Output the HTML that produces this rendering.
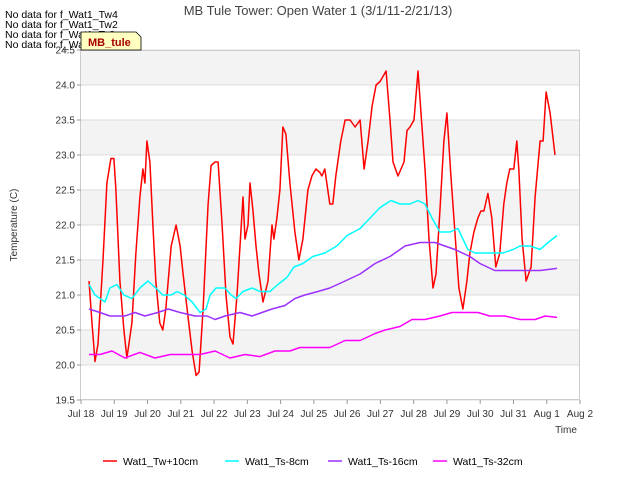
<!DOCTYPE html>
<html><head><meta charset="utf-8"><style>
body{margin:0;background:#fff;font-family:"Liberation Sans","DejaVu Sans",sans-serif}
svg text{font-family:"Liberation Sans","DejaVu Sans",sans-serif}
</style></head><body>
<svg id="chart" width="640" height="480" viewBox="0 0 640 480" xmlns="http://www.w3.org/2000/svg">
<g id="bands"></g>
<g id="grid"></g>
<rect x="80.5" y="50.5" width="499" height="349" fill="none" stroke="#ccc"/>
<g id="series"></g>
<g id="axes"></g>
<text x="318" y="15" text-anchor="middle" font-size="13" fill="#444">MB Tule Tower: Open Water 1 (3/1/11-2/21/13)</text>
<text transform="translate(17,225) rotate(-90)" text-anchor="middle" font-size="10" fill="#333">Temperature (C)</text>
<text x="566" y="433" text-anchor="middle" font-size="10" fill="#333">Time</text>
<g font-size="10.5" fill="#000">
<text x="5" y="18">No data for f_Wat1_Tw4</text>
<text x="5" y="28">No data for f_Wat1_Tw2</text>
<text x="5" y="38">No data for f_Wat1_Ts2</text>
<text x="5" y="48">No data for f_Wat1_Ts4</text>
</g>
<g>
<path d="M81,32 H136 L141,37 V50 H81 Z" fill="#ffffc0" stroke="#000" stroke-width="0.8"/>
<text x="88" y="46" font-size="11" font-weight="bold" fill="#a00">MB_tule</text>
</g>
<g id="legend"></g>
</svg>
<script>
const yTicks=[19.5,20,20.5,21,21.5,22,22.5,23,23.5,24,24.5];
const xTickLabels=["Jul 18","Jul 19","Jul 20","Jul 21","Jul 22","Jul 23","Jul 24","Jul 25","Jul 26","Jul 27","Jul 28","Jul 29","Jul 30","Jul 31","Aug 1","Aug 2"];
const seriesNames=["Wat1_Tw+10cm","Wat1_Ts-8cm","Wat1_Ts-16cm","Wat1_Ts-32cm"];
const seriesColors=["#ff0000","#00ffff","#9b30ff","#ff00ff"];
const twDays=[0.24,0.33,0.42,0.51,0.66,0.78,0.90,0.99,1.05,1.17,1.29,1.38,1.53,1.65,1.77,1.86,1.92,1.98,2.07,2.16,2.25,2.37,2.46,2.55,2.71,2.86,2.98,3.07,3.19,3.34,3.46,3.55,3.67,3.82,3.91,4.03,4.12,4.24,4.36,4.48,4.57,4.69,4.78,4.87,4.93,5.02,5.08,5.17,5.26,5.35,5.47,5.62,5.74,5.80,5.89,5.98,6.07,6.16,6.28,6.43,6.55,6.67,6.82,6.94,7.06,7.18,7.24,7.33,7.48,7.57,7.66,7.81,7.94,8.09,8.24,8.39,8.51,8.63,8.75,8.87,8.99,9.17,9.29,9.38,9.53,9.71,9.80,9.89,10.01,10.13,10.22,10.34,10.46,10.58,10.67,10.79,10.91,11.00,11.12,11.24,11.36,11.48,11.60,11.69,11.81,11.93,12.02,12.11,12.23,12.35,12.47,12.59,12.71,12.80,12.89,13.01,13.10,13.16,13.26,13.38,13.53,13.65,13.80,13.89,13.98,14.10,14.25];
const twVals=[21.2,20.6,20.05,20.3,21.5,22.6,22.95,22.95,22.5,21.2,20.5,20.1,20.6,21.6,22.4,22.8,22.6,23.2,22.9,22.0,21.2,20.6,20.5,20.8,21.7,22.0,21.7,21.3,20.8,20.2,19.85,19.9,20.8,22.3,22.85,22.9,22.9,22.0,21.0,20.4,20.3,21.0,21.7,22.4,21.8,22.0,22.6,22.2,21.7,21.3,20.9,21.2,22.0,21.8,22.1,22.5,23.4,23.3,22.6,21.9,21.5,21.8,22.5,22.7,22.8,22.75,22.7,22.8,22.3,22.3,22.7,23.2,23.5,23.5,23.4,23.5,22.8,23.2,23.7,24.0,24.05,24.2,23.5,22.9,22.7,22.9,23.35,23.4,23.5,24.2,23.6,22.8,21.8,21.1,21.3,22.2,23.2,23.6,22.7,21.9,21.1,20.8,21.2,21.6,21.9,22.1,22.2,22.2,22.45,22.1,21.4,21.6,22.3,22.6,22.8,22.8,23.2,22.8,21.8,21.2,21.4,22.4,23.2,23.2,23.9,23.6,23.0];
const ts8Days=[0.24,0.42,0.72,0.87,1.08,1.29,1.53,1.77,2.01,2.25,2.46,2.71,2.89,3.10,3.34,3.58,3.76,3.88,4.06,4.33,4.51,4.66,4.87,5.14,5.38,5.68,5.92,6.19,6.40,6.67,6.97,7.33,7.69,8.00,8.39,8.69,8.99,9.32,9.59,9.89,10.13,10.34,10.55,10.79,11.09,11.33,11.63,11.84,12.08,12.38,12.68,12.99,13.20,13.50,13.80,14.04,14.31];
const ts8Vals=[21.15,21.0,20.9,21.1,21.15,21.0,20.95,21.1,21.2,21.1,21.0,21.0,21.05,21.0,20.9,20.75,20.8,21.0,21.1,21.1,21.0,20.95,21.05,21.1,21.05,21.05,21.15,21.25,21.4,21.45,21.55,21.6,21.7,21.85,21.95,22.1,22.25,22.35,22.3,22.3,22.35,22.3,22.1,21.9,21.9,21.95,21.65,21.6,21.6,21.6,21.6,21.65,21.7,21.7,21.65,21.75,21.85];
const ts16Days=[0.24,0.57,0.87,1.32,1.62,1.92,2.31,2.62,2.98,3.43,3.79,4.03,4.33,4.78,5.14,5.44,5.74,6.13,6.43,6.73,7.12,7.48,7.94,8.39,8.84,9.29,9.74,10.19,10.64,10.94,11.24,11.69,11.99,12.44,12.89,13.35,13.80,14.31];
const ts16Vals=[20.8,20.75,20.7,20.7,20.75,20.7,20.75,20.8,20.75,20.7,20.7,20.65,20.7,20.75,20.7,20.75,20.8,20.85,20.95,21.0,21.05,21.1,21.2,21.3,21.45,21.55,21.7,21.75,21.75,21.7,21.65,21.55,21.45,21.35,21.35,21.35,21.35,21.38];
const ts32Days=[0.24,0.57,0.93,1.32,1.77,2.22,2.68,3.13,3.58,4.03,4.48,4.93,5.38,5.83,6.28,6.58,7.03,7.48,7.94,8.39,8.84,9.14,9.59,9.95,10.34,10.79,11.15,11.54,11.93,12.29,12.74,13.20,13.65,13.95,14.31];
const ts32Vals=[20.15,20.15,20.2,20.1,20.18,20.1,20.15,20.15,20.15,20.2,20.1,20.15,20.12,20.2,20.2,20.25,20.25,20.25,20.35,20.35,20.45,20.5,20.55,20.65,20.65,20.7,20.75,20.75,20.75,20.7,20.7,20.65,20.65,20.7,20.68];

const X0=81,X1=580,Y0=400,Y1=50,DMIN=0,DMAX=15,VMIN=19.5,VMAX=24.5;
const xs=d=>X0+(d-DMIN)/(DMAX-DMIN)*(X1-X0);
const ys=v=>Y0-(v-VMIN)/(VMAX-VMIN)*(Y0-Y1);
const NS="http://www.w3.org/2000/svg";
function mk(t,a,p){const e=document.createElementNS(NS,t);for(const k in a)e.setAttribute(k,a[k]);p.appendChild(e);return e;}
const bands=document.getElementById('bands'),grid=document.getElementById('grid'),axes=document.getElementById('axes');
for(let i=0;i<yTicks.length-1;i++){
  if(i%2===1){const b=mk('rect',{x:X0,y:ys(yTicks[i+1]),width:X1-X0,height:ys(yTicks[i])-ys(yTicks[i+1]),fill:'#f3f3f3'},bands);
  
  }
}
yTicks.forEach(v=>{
  const y=ys(v);
  const g=mk('line',{x1:X0,x2:X1,y1:y,y2:y,stroke:'#ddd','stroke-width':1},grid);
  
  
  const t=mk('line',{x1:X0-4,x2:X0,y1:y,y2:y,stroke:'#999'},axes);
  
  
  const l=mk('text',{x:X0-6,y:y+3.5,'text-anchor':'end','font-size':10,fill:'#333'},axes);
  l.textContent=v.toFixed(1);
  
  
});
xTickLabels.forEach((s,i)=>{
  const x=xs(i);
  const t=mk('line',{x1:x,x2:x,y1:Y0,y2:Y0+4,stroke:'#999'},axes);
  
  
  const l=mk('text',{x:x,y:Y0+17,'text-anchor':'middle','font-size':10,fill:'#333'},axes);
  l.textContent=s;
  
  
});
const ser=document.getElementById('series');
[[twDays,twVals],[ts8Days,ts8Vals],[ts16Days,ts16Vals],[ts32Days,ts32Vals]].forEach((s,i)=>{
  const pts=s[0].map((d,j)=>xs(d).toFixed(1)+','+ys(s[1][j]).toFixed(1)).join(' ');
  const p=mk('polyline',{points:pts,fill:'none',stroke:seriesColors[i],'stroke-width':1.5,'stroke-linejoin':'round'},ser);
  
  
});
const leg=document.getElementById('legend');
const legX=[103,225,328,433];
seriesNames.forEach((n,i)=>{
  const g=mk('g',{},leg);
  
  
  mk('line',{x1:legX[i],x2:legX[i]+14,y1:461,y2:461,stroke:seriesColors[i],'stroke-width':1.5},g);
  const t=mk('text',{x:legX[i]+20,y:465,'font-size':10.5,fill:'#000'},g);
  t.textContent=n;
});
</script>
</body></html>
